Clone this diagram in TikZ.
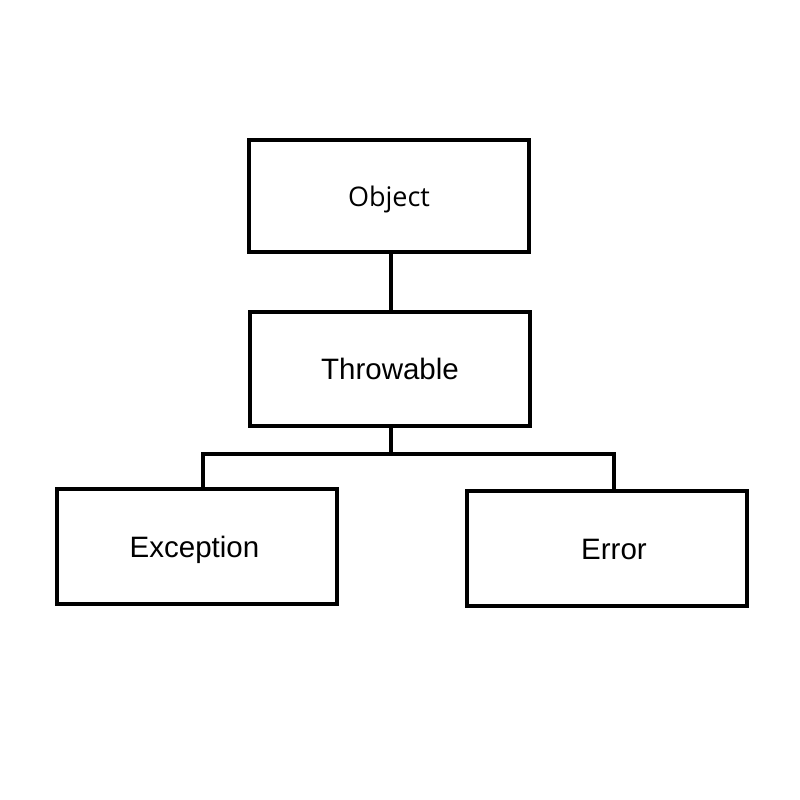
\documentclass[tikz,border=0pt]{standalone}
\usepackage{fontspec}
\setmainfont{Liberation Sans}
\newfontfamily\objfont{Open Sans}
\begin{document}
\begin{tikzpicture}[x=1pt,y=-1pt,
  cls/.style={draw=black,line width=4.3pt,fill=white,minimum width=280pt,minimum height=114pt,
    inner sep=0pt,text height=21pt,text depth=0pt,font=\fontsize{29.5}{32}\selectfont},
  lbl/.style={inner sep=0pt,text height=21pt,text depth=0pt,font=\fontsize{29.5}{32}\selectfont},
  conn/.style={draw=black,line width=4.3pt}]
\useasboundingbox (0,0) rectangle (800,800);
\node[cls,minimum height=112pt,font=\objfont\fontsize{27}{30}\selectfont] (obj) at (389,196) {Object};
\node[cls] (thr) at (390,369) {Throwable};
\node[cls,minimum height=115pt] (exc) at (197,546.5) {};
\node[lbl] (exct) at ([xshift=-2.5]exc.center) {Exception};
\node[cls,minimum height=115pt] (err) at (607,548.5) {};
\node[lbl] (errt) at ([xshift=7]err.center) {Error};
\coordinate (bus) at (391,454);
\draw[conn] (obj.south -| bus) -- (thr.north -| bus);
\draw[conn] (thr.south -| bus) -- (bus);
\draw[conn] ([xshift=6]exc.north) |- (bus) -| ([xshift=7]err.north);
\end{tikzpicture}
\end{document}
